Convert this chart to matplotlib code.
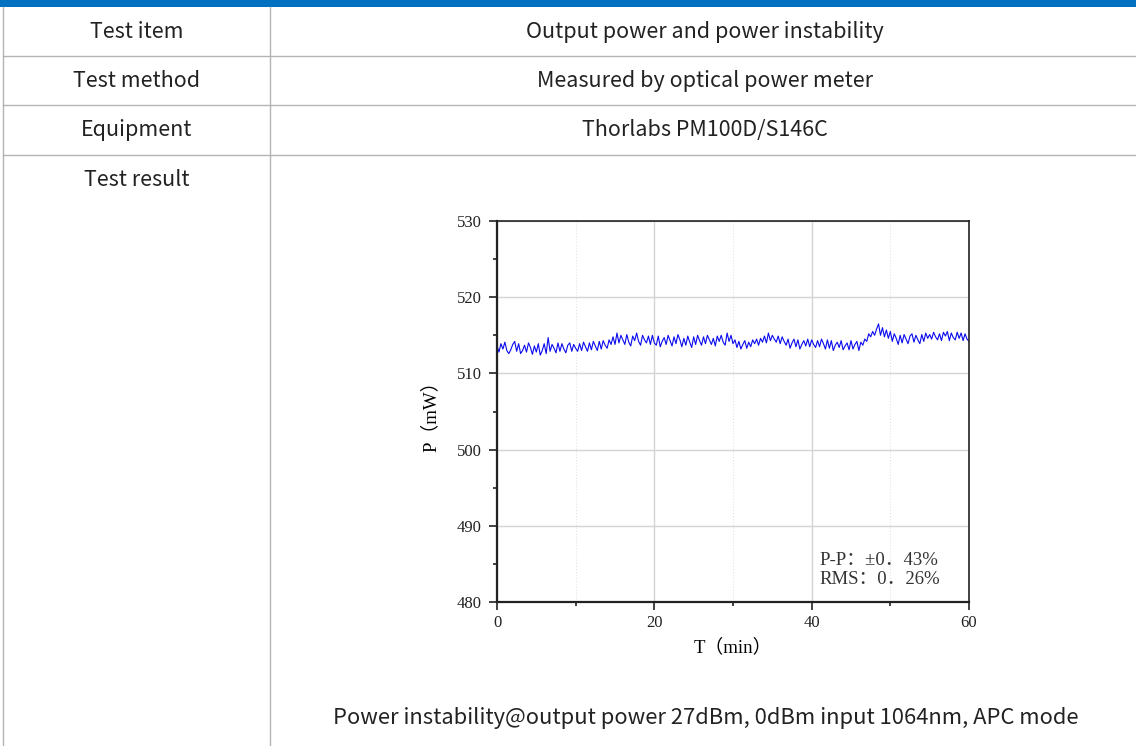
import numpy as np
import matplotlib
matplotlib.use('Agg')
import matplotlib.pyplot as plt

# table text
row_names = ['Test item', 'Test method', 'Equipment', 'Test result']
row_values = ['Output power and power instability', 'Measured by optical power meter',
              'Thorlabs PM100D/S146C', '']
caption = 'Power instability@output power 27dBm, 0dBm input 1064nm, APC mode'

# power trace, mW, one reading every 0.25 min
power = [
    513.6, 512.8, 513.9, 513.2, 514.1, 513.0, 512.6, 513.1, 513.8, 514.2, 512.9, 513.9, 512.6, 513.0, 513.7, 512.8, 514.0, 513.4, 512.5, 513.6,
    512.8, 513.9, 512.4, 513.0, 513.9, 512.6, 514.7, 512.9, 513.8, 513.3, 512.7, 514.0, 512.9, 513.9, 513.2, 512.7, 513.7, 514.0, 512.9, 513.8,
    513.3, 512.9, 513.9, 513.0, 514.1, 513.5, 512.9, 514.0, 513.1, 514.2, 513.6, 513.0, 514.2, 513.2, 514.3, 513.7, 513.3, 514.4, 513.8, 514.8,
    513.8, 515.3, 514.0, 515.0, 514.4, 513.8, 515.1, 514.1, 513.6, 514.9, 514.3, 515.3, 514.2, 513.7, 515.0, 514.4, 514.0, 514.9, 513.8, 515.0,
    514.0, 513.7, 514.9, 513.5, 514.2, 514.7, 513.8, 515.0, 514.3, 513.6, 514.8, 513.9, 515.1, 514.4, 513.5, 514.6, 513.7, 514.9, 514.1, 513.4,
    514.8, 513.8, 515.0, 514.3, 513.7, 514.8, 513.9, 515.0, 514.4, 513.8, 514.6, 513.6, 514.9, 514.2, 515.0, 514.1, 513.7, 515.3, 514.2, 515.0,
    513.9, 514.4, 513.4, 514.2, 513.2, 513.8, 514.3, 513.3, 514.1, 513.5, 514.4, 513.9, 514.5, 513.7, 514.6, 514.1, 514.9, 514.0, 515.3, 514.3,
    515.0, 514.5, 514.1, 514.9, 513.9, 514.8, 514.2, 513.7, 514.5, 513.3, 514.0, 514.5, 513.5, 514.4, 513.2, 513.8, 514.3, 513.6, 514.5, 513.5,
    514.4, 513.8, 513.4, 514.3, 513.5, 514.5, 513.9, 513.2, 514.4, 513.3, 514.3, 513.0, 513.7, 514.1, 513.4, 514.3, 513.1, 513.6, 514.0, 513.1,
    514.3, 513.2, 513.8, 514.2, 513.0, 514.1, 513.7, 514.5, 514.2, 515.2, 514.8, 515.5, 515.0, 515.8, 516.5, 515.0, 516.0, 514.8, 515.7, 514.6,
    515.5, 514.2, 515.2, 514.6, 513.8, 515.0, 514.0, 515.1, 514.5, 513.9, 514.9, 515.2, 514.1, 515.0, 514.4, 513.9, 515.1, 514.2, 515.3, 514.6,
    515.1, 514.5, 515.4, 514.8, 514.4, 515.2, 514.3, 515.4, 514.9, 515.5, 514.3, 515.3, 514.7, 514.4, 515.4, 514.6, 515.3, 514.3, 515.2, 514.5,
    514.2,
]
time_min = np.arange(len(power)) * 0.25

x_ticks = [0, 20, 40, 60]
y_ticks = [480, 490, 500, 510, 520, 530]
note = 'P-P：±0．43%\nRMS：0．26%'

W, H = 1136, 746
fig = plt.figure(figsize=(W / 100, H / 100), dpi=100)

# background layer in pixel units for the table
bg = fig.add_axes([0, 0, 1, 1])
bg.set_xlim(0, W)
bg.set_ylim(H, 0)
bg.axis('off')
bg.fill_between([0, W], 0, 7, color='#0070C0', lw=0)
gray = '#B4B4B4'
bg.plot([3, 3], [7, H], color=gray, lw=1)
bg.plot([270, 270], [7, H], color=gray, lw=1)
for yl in [56, 105, 155]:
    bg.plot([3, W], [yl, yl], color=gray, lw=1)

tfont = ['Noto Sans CJK SC', 'DejaVu Sans']
row_y = [32, 81, 130, 180]
for name, val, yy in zip(row_names, row_values, row_y):
    bg.text(137, yy, name, ha='center', va='center', fontsize=15.5, family=tfont,
            weight='light', color='#222222')
    if val:
        bg.text(705, yy, val, ha='center', va='center', fontsize=15.5, family=tfont,
                weight='light', color='#222222')
bg.text(706, 718, caption, ha='center', va='center', fontsize=15.8, family=tfont,
        weight='light', color='#222222')

# the chart
cfont = ['Liberation Serif', 'Noto Sans CJK SC']
l, r, t, b = 497, 969, 221, 602
ax = fig.add_axes([l / W, 1 - b / H, (r - l) / W, (b - t) / H])
ax.plot(time_min, power, color='#0A0AEE', lw=0.8)
ax.set_xlim(0, 60)
ax.set_ylim(480, 530)
ax.set_xticks(x_ticks)
ax.set_xticks([10, 30, 50], minor=True)
ax.set_yticks(y_ticks)
ax.set_yticks(np.arange(485, 530, 10), minor=True)
ax.grid(which='major', color='#D4D4D4', lw=1)
ax.grid(which='minor', axis='x', color='#E4E4E4', lw=0.8, ls=':')
ax.set_axisbelow(True)
for s in ['left', 'bottom']:
    ax.spines[s].set_linewidth(1.6)
for s in ['top', 'right']:
    ax.spines[s].set_linewidth(1.2)
for s in ax.spines.values():
    s.set_color('#222222')
ax.tick_params(which='major', length=6, width=1.2, colors='#222222', labelsize=12)
ax.tick_params(which='minor', length=3, width=1.2, colors='#222222')
ax.tick_params(axis='y', pad=5)
for lab in ax.get_xticklabels() + ax.get_yticklabels():
    lab.set_family('Liberation Serif')
ax.set_xlabel('T（min）', family=cfont, fontsize=13.5, labelpad=5)
ax.set_ylabel('P（mW）', family=cfont, fontsize=13.5, labelpad=12)
ax.text(41.0, 481.9, note, family=cfont, fontsize=13.5, va='bottom', ha='left',
        linespacing=1.15, color='#333333')

plt.savefig('out.png', dpi=100)
